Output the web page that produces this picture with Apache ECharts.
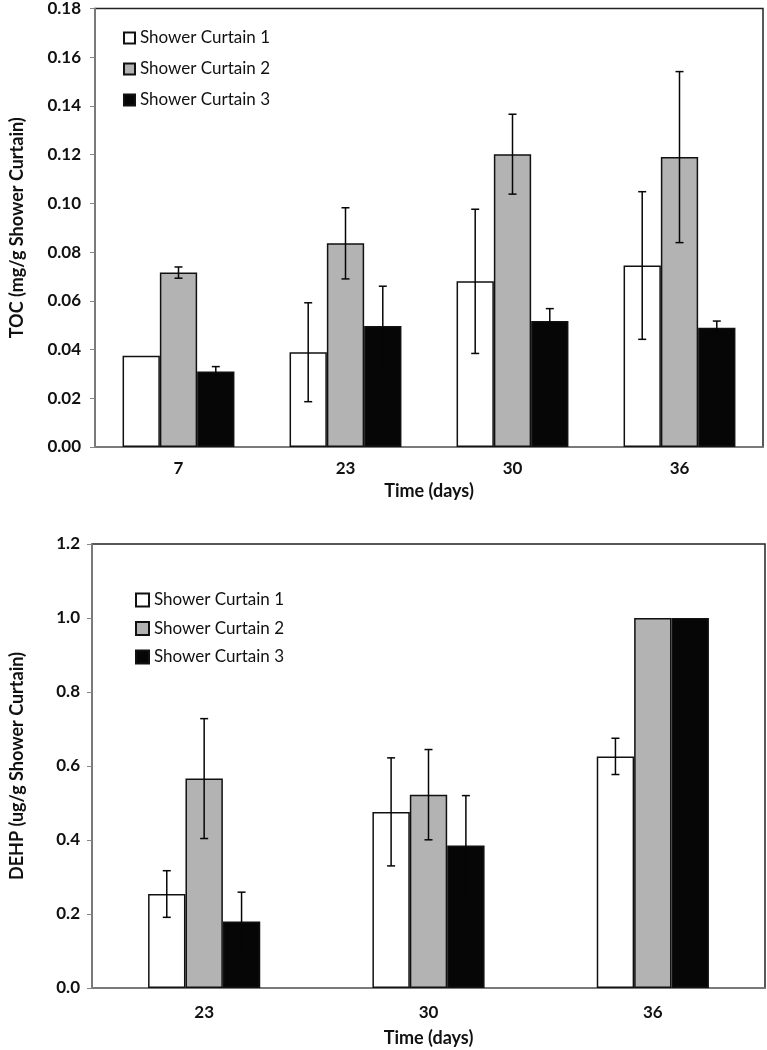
<!DOCTYPE html>
<html>
<head>
<meta charset="utf-8">
<script src="https://cdn.jsdelivr.net/npm/echarts@6/dist/echarts.min.js"></script>
<style>
  html, body { margin: 0; padding: 0; background: #fff; }
  #chart { width: 767px; height: 1050px; }
</style>
</head>
<body>
<div id="chart"></div>
<script>
// top panel: TOC
const tocDays = ['7', '23', '30', '36']
const toc1 = [0.0375, 0.0389, 0.068, 0.0745]
const toc1Err = [null, 0.0203, 0.0296, 0.0303]
const toc2 = [0.0716, 0.0836, 0.1202, 0.119]
const toc2Err = [0.0023, 0.0146, 0.0164, 0.0351]
const toc3 = [0.031, 0.0497, 0.0517, 0.049]
const toc3Err = [0.002, 0.0163, 0.0051, 0.0027]

// bottom panel: DEHP
const dehpDays = ['23', '30', '36']
const dehp1 = [0.254, 0.476, 0.626]
const dehp1Err = [0.063, 0.146, 0.049]
const dehp2 = [0.566, 0.5225, 1.0]
const dehp2Err = [0.162, 0.122, null]
const dehp3 = [0.18, 0.385, 1.0]
const dehp3Err = [0.079, 0.135, null]

const names = ['Shower Curtain 1', 'Shower Curtain 2', 'Shower Curtain 3']
const fills = ['#ffffff', '#b3b3b3', '#060606']
const font = 'Lato'

function barSeries(k, data, gi, gap) {
  return {
    name: names[k],
    type: 'bar',
    xAxisIndex: gi,
    yAxisIndex: gi,
    barGap: 0,
    barCategoryGap: gap,
    data: data,
    itemStyle: { color: fills[k], borderColor: '#111', borderWidth: 1.5 }
  }
}

function errSeries(k, vals, errs, gi, gap) {
  const gapFrac = parseFloat(gap) / 100
  return {
    type: 'custom',
    xAxisIndex: gi,
    yAxisIndex: gi,
    z: 10,
    silent: true,
    data: vals.map((v, i) => [i, v, errs[i] == null ? NaN : errs[i]]),
    renderItem(params, api) {
      const err = api.value(2)
      if (isNaN(err)) return
      const i = api.value(0)
      const v = api.value(1)
      const band = api.size([1, 0])[0]
      const barW = band * (1 - gapFrac) / 3
      const x = api.coord([i, v])[0] + (k - 1) * barW
      const hi = api.coord([i, v + err])[1]
      const lo = api.coord([i, v - err])[1]
      const st = { stroke: '#060606', lineWidth: 1.5 }
      return {
        type: 'group',
        children: [
          { type: 'line', shape: { x1: x, y1: hi, x2: x, y2: lo }, style: st },
          { type: 'line', shape: { x1: x - 4, y1: hi, x2: x + 4, y2: hi }, style: st },
          { type: 'line', shape: { x1: x - 4, y1: lo, x2: x + 4, y2: lo }, style: st }
        ]
      }
    }
  }
}

const axisLine = { show: true, lineStyle: { color: '#868686', width: 1.5 } }
const labelStyle = { color: '#111', fontFamily: font, fontWeight: 'bold', fontSize: 17 }
const nameStyle = { color: '#111', fontFamily: font, fontWeight: 'bold', fontSize: 18 }
const legendText = { fontFamily: font, fontSize: 17, color: '#111' }

const chart = echarts.init(document.getElementById('chart'))
chart.setOption({
  animation: false,
  grid: [
    { left: 93, top: 5, right: 4, height: 442, show: true, borderColor: '#222', borderWidth: 1.5 },
    { left: 90, top: 544, right: 2, height: 444, show: true, borderColor: '#222', borderWidth: 1.5 }
  ],
  legend: [
    {
      data: names, orient: 'vertical', left: 118, top: 24.5, icon: 'rect',
      itemWidth: 11, itemHeight: 11, itemGap: 14, textStyle: legendText
    },
    {
      data: names, orient: 'vertical', left: 130, top: 586.5, icon: 'rect',
      itemWidth: 13, itemHeight: 13, itemGap: 11.5, textStyle: legendText
    }
  ],
  xAxis: [
    {
      type: 'category', gridIndex: 0, data: tocDays,
      axisLine: axisLine, axisTick: { show: false },
      axisLabel: Object.assign({ margin: 13 }, labelStyle),
      name: 'Time (days)', nameLocation: 'middle', nameGap: 35, nameTextStyle: nameStyle
    },
    {
      type: 'category', gridIndex: 1, data: dehpDays,
      axisLine: axisLine, axisTick: { show: false },
      axisLabel: Object.assign({ margin: 16 }, labelStyle),
      name: 'Time (days)', nameLocation: 'middle', nameGap: 41, nameTextStyle: nameStyle
    }
  ],
  yAxis: [
    {
      type: 'value', gridIndex: 0, min: 0, max: 0.18, interval: 0.02,
      axisLine: axisLine, axisTick: { show: true, length: 5, lineStyle: { color: '#868686' } },
      splitLine: { show: false },
      axisLabel: Object.assign({ margin: 14, formatter: v => v.toFixed(2) }, labelStyle),
      name: 'TOC (mg/g Shower Curtain)', nameLocation: 'middle', nameGap: 69, nameTextStyle: nameStyle
    },
    {
      type: 'value', gridIndex: 1, min: 0, max: 1.2, interval: 0.2,
      axisLine: axisLine, axisTick: { show: true, length: 5, lineStyle: { color: '#868686' } },
      splitLine: { show: false },
      axisLabel: Object.assign({ margin: 12, formatter: v => v.toFixed(1) }, labelStyle),
      name: 'DEHP (ug/g Shower Curtain)', nameLocation: 'middle', nameGap: 66, nameTextStyle: nameStyle
    }
  ],
  series: [
    barSeries(0, toc1, 0, '33%'),
    barSeries(1, toc2, 0, '33%'),
    barSeries(2, toc3, 0, '33%'),
    errSeries(0, toc1, toc1Err, 0, '33%'),
    errSeries(1, toc2, toc2Err, 0, '33%'),
    errSeries(2, toc3, toc3Err, 0, '33%'),
    barSeries(0, dehp1, 1, '50%'),
    barSeries(1, dehp2, 1, '50%'),
    barSeries(2, dehp3, 1, '50%'),
    errSeries(0, dehp1, dehp1Err, 1, '50%'),
    errSeries(1, dehp2, dehp2Err, 1, '50%'),
    errSeries(2, dehp3, dehp3Err, 1, '50%')
  ]
})
</script>
</body>
</html>
